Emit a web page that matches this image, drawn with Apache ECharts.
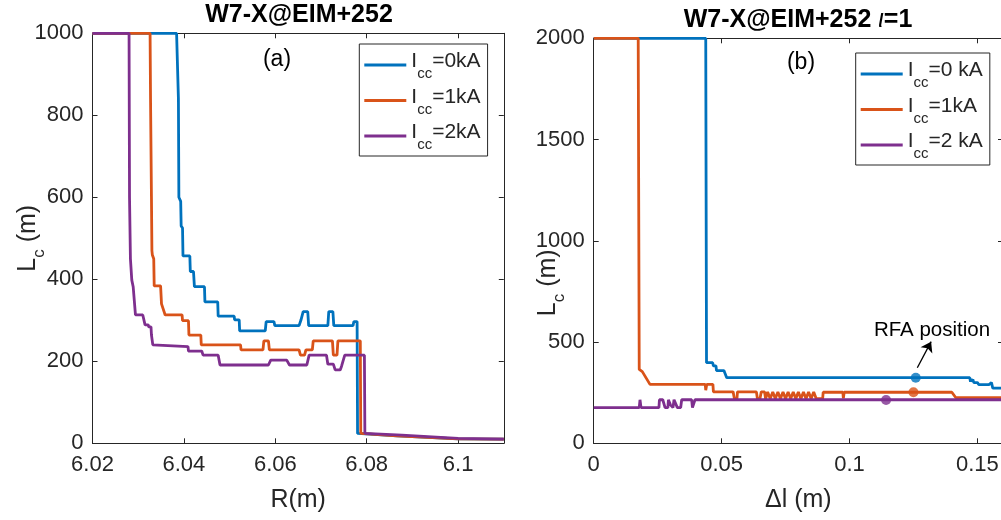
<!DOCTYPE html>
<html>
<head>
<meta charset="utf-8">
<script src="https://cdn.jsdelivr.net/npm/echarts@6/dist/echarts.min.js"></script>
<style>
  html, body { margin: 0; padding: 0; background: #fff; }
  #chart { width: 1001px; height: 520px; }
</style>
</head>
<body>
<div id="chart"></div>
<script>
// Connection length L_c of W7-X EIM+252 for three control-coil currents.

// Panel (a): L_c (m) against major radius R (m)
const rIcc0 = [
  [6.0200,1000],[6.0384,1000],[6.0388,840],[6.0389,600],[6.0393,590],[6.0394,530],[6.0397,525],[6.0398,457],
  [6.0413,457],[6.0414,419],[6.0421,419],[6.0423,382],[6.0445,382],[6.0446,345],[6.0474,345],[6.0475,310],
  [6.0510,310],[6.0511,301],[6.0521,301],[6.0522,274],[6.0578,274],[6.0580,297],[6.0597,297],[6.0599,287],
  [6.0652,287],[6.0656,300],[6.0661,321],[6.0671,321],[6.0673,287],[6.0715,287],[6.0717,321],[6.0726,321],
  [6.0728,287],[6.0770,287],[6.0772,297],[6.0779,297],[6.0780,24],[6.0866,18],[6.0868,15],[6.1000,11],[6.1100,10]
];
const rIcc1 = [
  [6.0200,1000],[6.0326,1000],[6.0327,840],[6.0329,600],[6.0330,470],[6.0331,459],[6.0334,450],[6.0335,384],
  [6.0349,384],[6.0351,340],[6.0359,313],[6.0396,313],[6.0397,299],[6.0410,299],[6.0411,264],[6.0437,264],
  [6.0438,240],[6.0524,240],[6.0525,228],[6.0573,228],[6.0575,250],[6.0585,250],[6.0587,228],[6.0652,228],
  [6.0655,215],[6.0664,215],[6.0667,228],[6.0681,228],[6.0683,250],[6.0725,250],[6.0727,215],[6.0735,215],
  [6.0737,250],[6.0786,250],[6.0787,24],[6.0866,18],[6.0868,15],[6.1000,11],[6.1100,10]
];
const rIcc2 = [
  [6.0200,1000],[6.0280,1000],[6.0281,600],[6.0283,450],[6.0286,398],[6.0289,382],[6.0294,313],[6.0310,313],
  [6.0315,289],[6.0322,289],[6.0323,284],[6.0328,284],[6.0329,264],[6.0331,264],[6.0332,240],[6.0409,236],
  [6.0410,225],[6.0439,225],[6.0442,215],[6.0475,215],[6.0479,191],[6.0585,191],[6.0590,203],[6.0625,203],
  [6.0631,191],[6.0669,191],[6.0674,215],[6.0712,215],[6.0715,193],[6.0727,193],[6.0731,179],[6.0742,179],
  [6.0745,188],[6.0748,200],[6.0752,215],[6.0795,215],[6.0796,24],[6.0877,20],[6.0880,16],[6.1000,12],[6.1100,10]
];

// Panel (b): L_c (m) against distance Δl (m), iota = 1 surface
const dlIcc0 = [
  [0,2000],[0.0438,2000],[0.0441,398],[0.0465,398],[0.0468,382],[0.0478,382],[0.0480,359],[0.0509,359],
  [0.0520,324],[0.1470,324],[0.1473,304],[0.1476,318],[0.1479,304],[0.1482,316],[0.1486,300],[0.1500,300],
  [0.1505,290],[0.1545,290],[0.1555,300],[0.1560,272],[0.1600,272]
];
const dlIcc1 = [
  [0,2000],[0.0174,2000],[0.0178,365],[0.0190,354],[0.0220,291],[0.0436,291],[0.0438,262],[0.0440,262],
  [0.0442,291],[0.0466,291],[0.0468,254],[0.0545,254],[0.0550,220],[0.0560,220],[0.0562,254],[0.0636,254],
  [0.0640,220],[0.0650,220],[0.0655,254],[0.0668,254],[0.0672,220],[0.0680,254],[0.0690,220],[0.0700,254],
  [0.0710,220],[0.0720,254],[0.0730,220],[0.0740,254],[0.0750,220],[0.0760,254],[0.0770,220],[0.0780,254],
  [0.0790,220],[0.0800,254],[0.0810,220],[0.0820,254],[0.0830,220],[0.0840,254],[0.0850,220],[0.0860,254],
  [0.0870,220],[0.0895,220],[0.0897,252],[0.0974,252],[0.0976,222],[0.0979,252],[0.1400,252],[0.1415,226],
  [0.1600,226]
];
const dlIcc2 = [
  [0,176],[0.0178,176],[0.0181,215],[0.0185,176],[0.0255,176],[0.0257,215],[0.0270,215],[0.0279,176],
  [0.0290,176],[0.0292,215],[0.0300,190],[0.0310,176],[0.0314,215],[0.0327,176],[0.0340,176],[0.0344,215],
  [0.0383,215],[0.0386,176],[0.0390,176],[0.0396,215],[0.1600,215]
];

// RFA probe position on each curve and the pointer towards it
const rfaDl = [0.1259, 0.1250, 0.1143];
const rfaLc = [324, 252, 214];
const rfaArrow = [[0.1265, 373], [0.1319, 502]];

// Axis ranges and tick steps
const axisA = { xMin: 6.02, xMax: 6.11, xStep: 0.02, yMin: 0, yMax: 1000, yStep: 200 };
const axisB = { xMin: 0, xMax: 0.16, xStep: 0.05, yMin: 0, yMax: 2000, yStep: 500 };

// Legend entries
const namesA = ['Icc=0kA', 'Icc=1kA', 'Icc=2kA'];
const namesB = ['Icc=0 kA', 'Icc=1 kA', 'Icc=2 kA'];
const legendA = ['=0kA', '=1kA', '=2kA'];
const legendB = ['=0 kA', '=1kA', '=2 kA'];

const FONT = "'Liberation Sans', Arial, Helvetica, sans-serif";
const INK = '#262626';
const COLORS = ['#0072BD', '#D95319', '#7E2F8E'];

const labelOf = {};
namesA.forEach((n, i) => { labelOf[n] = legendA[i]; });
namesB.forEach((n, i) => { labelOf[n] = legendB[i]; });

// rich text: main glyphs and lowered subscript (top padding sets the drop)
const subRich = {
  m: { fontSize: 21, fontFamily: FONT, color: INK, lineHeight: 36, padding: [4, 0, 0, 0], verticalAlign: 'top' },
  s: { fontSize: 15, fontFamily: FONT, color: INK, lineHeight: 36, padding: [19.5, 0, 0, 0], verticalAlign: 'top' }
};
const nameRich = {
  m: { fontSize: 25, fontFamily: FONT, color: INK, lineHeight: 32, padding: [3, 0, 0, 0], verticalAlign: 'top' },
  s: { fontSize: 17, fontFamily: FONT, color: INK, lineHeight: 32, padding: [18.5, 0, 0, 0], verticalAlign: 'top' }
};

const tickText = v => String(Math.round(v * 1e6) / 1e6);

function xAxisFor(grid, ax, top, name) {
  return {
    type: 'value', gridIndex: grid, position: top ? 'top' : 'bottom',
    min: ax.xMin, max: ax.xMax, interval: ax.xStep,
    axisLine: { show: true, onZero: false, lineStyle: { color: INK, width: 1 } },
    axisTick: { show: true, inside: true, length: 5, lineStyle: { color: INK } },
    axisLabel: { show: !top, showMaxLabel: false, margin: 11, fontSize: 22, fontFamily: FONT, color: INK, formatter: tickText },
    splitLine: { show: false },
    name: top ? '' : name, nameLocation: 'middle', nameGap: 44, nameMoveOverlap: false,
    nameTextStyle: { fontSize: 25, fontFamily: FONT, color: INK }
  };
}
function yAxisFor(grid, ax, right, gap, shift) {
  return {
    type: 'value', gridIndex: grid, position: right ? 'right' : 'left',
    min: ax.yMin, max: ax.yMax, interval: ax.yStep,
    axisLine: { show: true, onZero: false, lineStyle: { color: INK, width: 1 } },
    axisTick: { show: true, inside: true, length: 5, lineStyle: { color: INK } },
    axisLabel: { show: !right, margin: 9, fontSize: 22, fontFamily: FONT, color: INK, formatter: tickText },
    splitLine: { show: false },
    name: right ? '' : '{m|L}{s|c}{m| (m)}', nameLocation: 'middle', nameGap: gap, nameRotate: 90,
    nameMoveOverlap: false,
    nameTextStyle: { fontSize: 25, fontFamily: FONT, color: INK, rich: nameRich, padding: [0, shift || 0, 0, 0] }
  };
}

function curve(name, data, xi, yi, color) {
  return {
    type: 'line', name: name, data: data, xAxisIndex: xi, yAxisIndex: yi,
    showSymbol: false, symbol: 'none', clip: true,
    lineStyle: { color: color, width: 2.8 }, itemStyle: { color: color }
  };
}

function legendFor(names, left, top) {
  return {
    data: names, orient: 'vertical', left: left, top: top,
    icon: 'rect', itemWidth: 42, itemHeight: 3, itemGap: 1,
    padding: [3, 7, 3.5, 5], borderColor: INK, borderWidth: 1, backgroundColor: '#fff',
    selectedMode: false,
    formatter: name => '{m|I}{s|cc}{m|' + labelOf[name] + '}',
    textStyle: { fontFamily: FONT, fontSize: 21, color: INK, rich: subRich }
  };
}

const chart = echarts.init(document.getElementById('chart'), null, { renderer: 'canvas' });

chart.setOption({
  animation: false,
  backgroundColor: '#fff',
  grid: [
    { left: 92.5, top: 33.3, width: 411.3, height: 410, containLabel: false, outerBoundsMode: 'none' },
    { left: 593.7, top: 38.3, width: 409.3, height: 405, containLabel: false, outerBoundsMode: 'none' }
  ],
  xAxis: [
    xAxisFor(0, axisA, false, 'R(m)'),
    xAxisFor(0, axisA, true, ''),
    xAxisFor(1, axisB, false, 'Δl (m)'),
    xAxisFor(1, axisB, true, '')
  ],
  yAxis: [
    yAxisFor(0, axisA, false, 48, 0),
    yAxisFor(0, axisA, true, 0),
    yAxisFor(1, axisB, false, 29, 84),
    yAxisFor(1, axisB, true, 0)
  ],
  legend: [legendFor(namesA, 359.3, 44), legendFor(namesB, 855.7, 53)],
  series: [
    curve(namesA[0], rIcc0, 0, 0, COLORS[0]),
    curve(namesA[1], rIcc1, 0, 0, COLORS[1]),
    curve(namesA[2], rIcc2, 0, 0, COLORS[2]),
    curve(namesB[0], dlIcc0, 2, 2, COLORS[0]),
    curve(namesB[1], dlIcc1, 2, 2, COLORS[1]),
    curve(namesB[2], dlIcc2, 2, 2, COLORS[2]),
    {
      type: 'scatter', xAxisIndex: 2, yAxisIndex: 2, symbolSize: 10, z: 5,
      data: rfaDl.map((d, i) => ({ value: [d, rfaLc[i]], itemStyle: { color: COLORS[i] } })),
      markLine: {
        silent: true, symbol: ['none', 'arrow'], symbolSize: 10,
        lineStyle: { color: '#000', width: 1.3, type: 'solid' },
        label: { show: false },
        data: [[{ coord: rfaArrow[0] }, { coord: rfaArrow[1] }]]
      }
    }
  ],
  graphic: [
    { type: 'text', x: 299, y: 15, style: { text: 'W7-X@EIM+252', font: 'bold 25px ' + FONT, fill: '#000', textAlign: 'center', textVerticalAlign: 'middle' } },
    { type: 'text', x: 798, y: 20, style: {
        text: '{b|W7-X@EIM+252 }{i|ι}{b|=1}', textAlign: 'center', textVerticalAlign: 'middle',
        rich: {
          b: { fontFamily: FONT, fontSize: 25, fontWeight: 'bold', fill: '#000' },
          i: { fontFamily: FONT, fontSize: 25, fontStyle: 'italic', fill: '#000' }
        }
      } },
    { type: 'text', x: 277, y: 60, style: { text: '(a)', font: '23px ' + FONT, fill: '#000', textAlign: 'center', textVerticalAlign: 'middle' } },
    { type: 'text', x: 801, y: 63, style: { text: '(b)', font: '23px ' + FONT, fill: '#000', textAlign: 'center', textVerticalAlign: 'middle' } },
    { type: 'text', x: 932, y: 330, style: { text: 'RFA position', font: '20.5px ' + FONT, fill: '#000', textAlign: 'center', textVerticalAlign: 'middle' } }
  ]
});
</script>
</body>
</html>
